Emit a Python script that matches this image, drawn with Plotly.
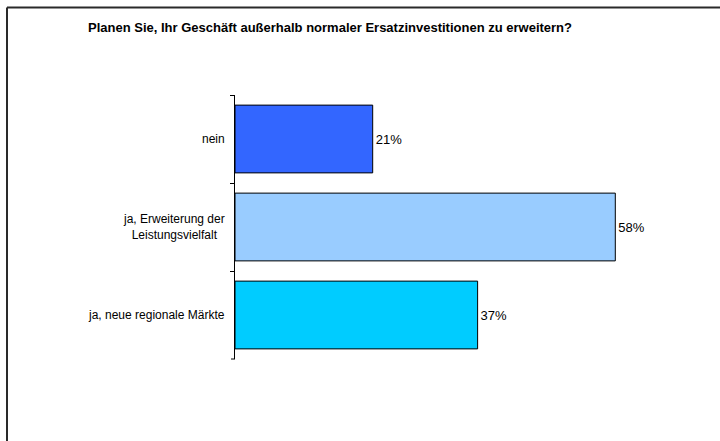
import plotly.graph_objects as go

# Survey answers and shares (percent)
categories = ["nein", "ja, Erweiterung der<br>Leistungsvielfalt", "ja, neue regionale Märkte"]
shares = [21, 58, 37]
bar_colors = ["#3366FF", "#99CCFF", "#00CCFF"]
title_text = "Planen Sie, Ihr Geschäft außerhalb normaler Ersatzinvestitionen zu erweitern?"

W, H = 720, 441
ML, MR, MT, MB = 235, 26, 95, 82
pw, ph = W - ML - MR, H - MT - MB
FONT = "Liberation Sans, Arial, sans-serif"

fig = go.Figure(
    go.Bar(
        x=shares,
        y=categories,
        orientation="h",
        marker=dict(color=bar_colors, line=dict(color="#000000", width=1)),
        texttemplate="%{x:.0f}%",
        textposition="outside",
        textfont=dict(family=FONT, size=13, color="#000000"),
        cliponaxis=False,
        width=0.77,
    )
)

# category labels, lines centred within each label block
annotations = [
    dict(
        x=0, xref="paper", y=c, yref="y",
        text=c, showarrow=False, xanchor="right", yanchor="middle",
        align="center", xshift=-8,
        font=dict(family=FONT, size=12, color="#000000"),
    )
    for c in categories
]

def px_x(p):
    return (p - ML) / pw

def px_y(p):
    return 1 - (p - MT) / ph

# outer chart frame (left and top edges)
frame = dict(color="#2a2a2a", width=2)
shapes = [
    dict(type="line", xref="paper", yref="paper", x0=px_x(7), x1=px_x(7),
         y0=px_y(7.5), y1=px_y(441), line=frame),
    dict(type="line", xref="paper", yref="paper", x0=px_x(7), x1=px_x(720),
         y0=px_y(7.5), y1=px_y(7.5), line=frame),
    # closing tick at the lower end of the category axis
    dict(type="line", xref="paper", yref="paper", x0=px_x(231), x1=0,
         y0=0, y1=0, line=dict(color="#000000", width=1)),
]

fig.update_layout(
    width=W, height=H,
    margin=dict(l=ML, r=MR, t=MT, b=MB, pad=0),
    paper_bgcolor="#FFFFFF", plot_bgcolor="#FFFFFF",
    showlegend=False,
    title=dict(
        text="<b>" + title_text + "</b>",
        x=330 / W, xref="container", xanchor="center",
        y=1 - 27 / H, yref="container", yanchor="middle",
        font=dict(family=FONT, size=13, color="#000000"),
    ),
    xaxis=dict(range=[0, 70], visible=False, fixedrange=True),
    yaxis=dict(
        range=[2.5, -0.5],
        showline=True, linecolor="#000000", linewidth=1,
        ticks="outside", ticklen=4, tickcolor="#000000", tickwidth=1,
        tickson="boundaries", showticklabels=False, showgrid=False, zeroline=False,
    ),
    annotations=annotations,
    shapes=shapes,
)

fig.write_html("out.html")
